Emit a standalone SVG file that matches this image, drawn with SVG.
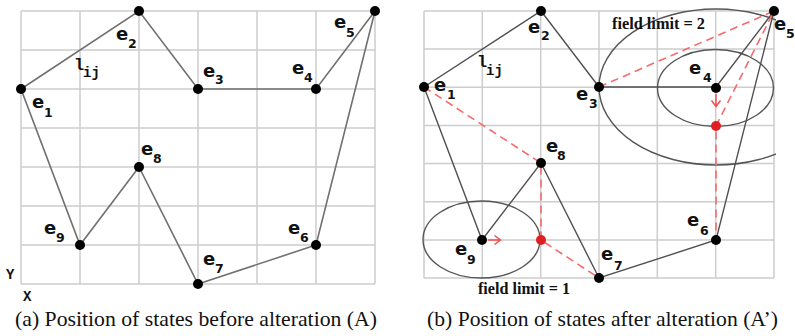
<svg xmlns="http://www.w3.org/2000/svg" width="795" height="336" viewBox="0 0 795 336">
<style>
.grid{stroke:#cdcdcd;stroke-width:1.5;fill:none}
.edgeA{stroke:#707070;stroke-width:1.6;fill:none}
.edgeB{stroke:#505050;stroke-width:1.4;fill:none}
.dash{stroke:#f76a6a;stroke-width:1.6;stroke-dasharray:8 5;fill:none}
.arr{stroke:#f05050;stroke-width:1.5;fill:none}
.ell{stroke:#555;stroke-width:1.4;fill:none}
.dot{fill:#000}
.rdot{fill:#e02020}
.lb{font-family:'DejaVu Sans',sans-serif;font-weight:bold;font-size:18px;fill:#111}
.sub{font-family:'DejaVu Sans',sans-serif;font-weight:bold;font-size:12.5px;fill:#111}
.mono{font-family:'Liberation Mono','Courier New',monospace;font-weight:bold;font-size:17px;fill:#111}
.monosub{font-family:'Liberation Mono','Courier New',monospace;font-weight:bold;font-size:14px;fill:#111}
.fl{font-family:'Liberation Serif','Times New Roman','DejaVu Serif',serif;font-weight:bold;font-size:16px;fill:#111}
.cap{font-family:'Liberation Serif','Times New Roman','DejaVu Serif',serif;font-size:21px;fill:#111}
</style>
<defs>
<clipPath id="clipB"><rect x="590" y="0" width="186" height="290"/></clipPath>
</defs>
<rect width="795" height="336" fill="#fff"/>
<g id="gridA" class="grid">
<path d="M21 11V284M80 11V284M139 11V284M198 11V284M257 11V284M316 11V284M375 11V284"/>
<path d="M21 11H375M21 50H375M21 89H375M21 128H375M21 167H375M21 206H375M21 245H375M21 284H375"/>
</g>
<g id="gridB" class="grid">
<path d="M424 11V278M482.3 11V278M540.7 11V278M599 11V278M657.3 11V278M715.7 11V278M774 11V278"/>
<path d="M424 11H774M424 49.1H774M424 87.3H774M424 125.4H774M424 163.6H774M424 201.7H774M424 239.9H774M424 278H774"/>
</g>
<g id="fields">
<ellipse class="ell" cx="481.5" cy="239.5" rx="58.5" ry="38.5"/>
<ellipse class="ell" cx="715.5" cy="88" rx="58" ry="38.5"/>
<ellipse class="ell" cx="716" cy="87" rx="117" ry="78" clip-path="url(#clipB)"/>
</g>
<g id="connectors">
<path class="edgeA" d="M21 89L139 11L198 89H316L375 11L316 245L198 284L139 167L80 245Z"/>
<path class="edgeB" d="M424 87L541 11L599 87H716L774 11L716 240L599 278L541 163L482 240Z"/>
<path class="dash" d="M424 87L541 163V240L599 278"/>
<path class="dash" d="M599 87L774 11L716 126V240"/>
<path class="arr" d="M488 240H500M494.5 235.5L500.5 240L494.5 244.5"/>
<path class="arr" d="M716 94V106M711.5 100.5L716 106.5L720.5 100.5"/>
</g>
<g id="A-e1"><circle class="dot" cx="21" cy="89" r="5"/><text class="lb" x="32" y="108">e<tspan class="sub" x="44" y="117">1</tspan></text></g>
<g id="A-e2"><circle class="dot" cx="139" cy="11" r="5"/><text class="lb" x="116" y="40">e<tspan class="sub" x="128" y="48">2</tspan></text></g>
<g id="A-e3"><circle class="dot" cx="198" cy="89" r="5"/><text class="lb" x="203" y="77">e<tspan class="sub" x="215" y="84">3</tspan></text></g>
<g id="A-e4"><circle class="dot" cx="316" cy="89" r="5"/><text class="lb" x="292" y="74">e<tspan class="sub" x="304" y="82">4</tspan></text></g>
<g id="A-e5"><circle class="dot" cx="375" cy="11" r="5"/><text class="lb" x="334" y="28">e<tspan class="sub" x="346" y="37">5</tspan></text></g>
<g id="A-e6"><circle class="dot" cx="316" cy="245" r="5"/><text class="lb" x="288" y="234">e<tspan class="sub" x="300" y="242">6</tspan></text></g>
<g id="A-e7"><circle class="dot" cx="198" cy="284" r="5"/><text class="lb" x="203" y="265">e<tspan class="sub" x="215" y="273">7</tspan></text></g>
<g id="A-e8"><circle class="dot" cx="139" cy="167" r="5"/><text class="lb" x="141" y="155">e<tspan class="sub" x="153" y="163">8</tspan></text></g>
<g id="A-e9"><circle class="dot" cx="80" cy="245" r="5"/><text class="lb" x="44" y="234">e<tspan class="sub" x="56" y="242">9</tspan></text></g>
<g id="A-lij"><text class="mono" x="74" y="70">l<tspan class="monosub" x="83" y="77">ij</tspan></text></g>
<text class="mono" x="6" y="279" style="font-size:14px">Y</text>
<text class="mono" x="23" y="301" style="font-size:14px">X</text>
<g id="B-e1"><circle class="dot" cx="424" cy="87" r="5"/><text class="lb" x="434" y="91">e<tspan class="sub" x="447" y="99">1</tspan></text></g>
<g id="B-e2"><circle class="dot" cx="541" cy="11" r="5"/><text class="lb" x="528" y="33">e<tspan class="sub" x="541" y="40">2</tspan></text></g>
<g id="B-e3"><circle class="dot" cx="599" cy="87" r="5"/><text class="lb" x="576" y="100">e<tspan class="sub" x="589" y="108">3</tspan></text></g>
<g id="B-e4"><circle class="dot" cx="716" cy="88" r="5"/><text class="lb" x="689" y="74">e<tspan class="sub" x="703" y="82">4</tspan></text></g>
<g id="B-e5"><circle class="dot" cx="774" cy="11" r="5"/><text class="lb" x="774" y="30">e<tspan class="sub" x="786" y="38">5</tspan></text></g>
<g id="B-e6"><circle class="dot" cx="716" cy="240" r="5"/><text class="lb" x="687" y="226">e<tspan class="sub" x="700" y="235">6</tspan></text></g>
<g id="B-e7"><circle class="dot" cx="599" cy="278" r="5"/><text class="lb" x="601" y="260">e<tspan class="sub" x="614" y="270">7</tspan></text></g>
<g id="B-e8"><circle class="dot" cx="541" cy="163" r="5"/><text class="lb" x="546" y="152">e<tspan class="sub" x="557" y="160">8</tspan></text></g>
<g id="B-e9"><circle class="dot" cx="482" cy="240" r="5"/><text class="lb" x="455" y="255">e<tspan class="sub" x="467" y="264">9</tspan></text></g>
<g id="B-r4"><circle class="rdot" cx="716" cy="126" r="5"/></g>
<g id="B-r9"><circle class="rdot" cx="541" cy="240" r="5"/></g>
<g id="B-lij"><text class="mono" x="477" y="67">l<tspan class="monosub" x="486" y="75">ij</tspan></text></g>
<text class="fl" x="612" y="29" textLength="93" lengthAdjust="spacingAndGlyphs">field limit = 2</text>
<text class="fl" x="478" y="294" textLength="92" lengthAdjust="spacingAndGlyphs">field limit = 1</text>
<text class="cap" x="15" y="326" textLength="362" lengthAdjust="spacingAndGlyphs">(a) Position of states before alteration (A)</text>
<text class="cap" x="427" y="326" textLength="351" lengthAdjust="spacingAndGlyphs">(b) Position of states after alteration (A’)</text>
</svg>
